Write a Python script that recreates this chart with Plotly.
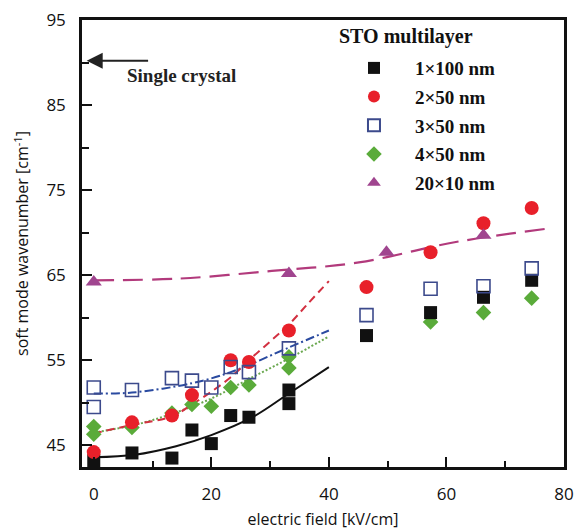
import plotly.graph_objects as go

# ---- measured soft-mode wavenumbers (cm^-1) versus electric field (kV/cm) ----
e_1x100 = [0, 6.5, 13.3, 16.7, 20, 23.3, 26.4, 33.2, 33.2, 46.4, 57.3, 66.3, 74.5]
w_1x100 = [43.2, 44.1, 43.5, 46.8, 45.2, 48.5, 48.3, 51.5, 49.9, 57.9, 60.6, 62.4, 64.4]

e_2x50 = [0, 6.5, 13.3, 16.7, 23.3, 26.4, 33.2, 46.4, 57.3, 66.3, 74.5]
w_2x50 = [44.2, 47.7, 48.5, 50.9, 55.0, 54.8, 58.5, 63.6, 67.7, 71.1, 72.9]

e_3x50 = [0, 0, 6.5, 13.3, 16.7, 20, 23.3, 26.4, 33.2, 46.4, 57.3, 66.3, 74.5]
w_3x50 = [51.8, 49.5, 51.5, 52.9, 52.6, 51.8, 54.2, 53.6, 56.4, 60.3, 63.4, 63.7, 65.8]

e_4x50 = [0, 0, 6.5, 13.3, 16.7, 20, 23.3, 26.4, 33.2, 33.2, 57.3, 66.3, 74.5]
w_4x50 = [47.2, 46.3, 47.1, 48.8, 49.8, 49.6, 51.8, 52.1, 55.4, 54.1, 59.5, 60.6, 62.3]

e_20x10 = [0, 33.2, 49.8, 66.3]
w_20x10 = [64.2, 65.2, 67.7, 69.7]

# ---- guide curves through the low-field data ----
fit_e_1x100 = [0, 7, 14, 20, 27, 33, 40]
fit_w_1x100 = [43.6, 43.9, 44.9, 46.2, 48.3, 51.0, 54.2]

fit_e_2x50 = [0, 6.5, 13.3, 16.7, 20, 23.3, 26.4, 30, 33.2, 36.5, 40]
fit_w_2x50 = [46.4, 47.4, 48.4, 49.8, 51.3, 53.0, 55.0, 57.2, 59.2, 61.7, 64.3]

fit_e_3x50 = [0, 6.5, 16.7, 23.3, 33.2, 40]
fit_w_3x50 = [51.1, 51.2, 52.3, 53.6, 56.5, 58.5]

fit_e_4x50 = [0, 7, 13.3, 20, 26.4, 33.2, 40]
fit_w_4x50 = [46.5, 47.4, 48.7, 50.5, 52.8, 55.2, 57.8]

fit_e_20x10 = [0, 14.5, 30.3, 45.1, 61.6, 77.5]
fit_w_20x10 = [64.4, 64.6, 65.5, 66.5, 68.9, 70.5]

single_crystal = 90.2  # bulk STO soft-mode frequency

legend_title = "STO multilayer"
labels = ["1×100 nm", "2×50 nm", "3×50 nm", "4×50 nm", "20×10 nm"]

BLACK = "#111111"
RED = "#e8202a"
NAVY = "#3c4a8c"
GREEN = "#5aab3a"
PURPLE = "#a0458f"

fig = go.Figure()

# guide curves (not in legend)
fig.add_trace(go.Scatter(x=fit_e_20x10, y=fit_w_20x10, mode="lines", showlegend=False,
                         line=dict(color="#b23a7c", width=2.2, dash="20px,9px", shape="spline")))
fig.add_trace(go.Scatter(x=fit_e_4x50, y=fit_w_4x50, mode="lines", showlegend=False,
                         line=dict(color="#6aa84f", width=2, dash="2px,2px", shape="spline")))
fig.add_trace(go.Scatter(x=fit_e_3x50, y=fit_w_3x50, mode="lines", showlegend=False,
                         line=dict(color="#2a4aa0", width=2, dash="9px,3px,2px,3px", shape="spline")))
fig.add_trace(go.Scatter(x=fit_e_2x50, y=fit_w_2x50, mode="lines", showlegend=False,
                         line=dict(color="#d23040", width=2, dash="8px,5px", shape="spline")))
fig.add_trace(go.Scatter(x=fit_e_1x100, y=fit_w_1x100, mode="lines", showlegend=False,
                         line=dict(color=BLACK, width=2, shape="spline")))

# measured points
fig.add_trace(go.Scatter(x=e_4x50, y=w_4x50, mode="markers", name=labels[3], legendrank=4,
                         legendgroup="g4",
                         marker=dict(symbol="diamond", size=12, color=GREEN)))
fig.add_trace(go.Scatter(x=e_1x100, y=w_1x100, mode="markers", name=labels[0], legendrank=1,
                         legendgroup="g1",
                         marker=dict(symbol="square", size=13, color=BLACK)))
fig.add_trace(go.Scatter(x=e_2x50, y=w_2x50, mode="markers", name=labels[1], legendrank=2,
                         legendgroup="g2",
                         marker=dict(symbol="circle", size=14, color=RED)))
fig.add_trace(go.Scatter(x=e_3x50, y=w_3x50, mode="markers", name=labels[2], legendrank=3,
                         legendgroup="g3",
                         marker=dict(symbol="square-open", size=13, color=NAVY,
                                     line=dict(width=1.6, color=NAVY))))
fig.add_trace(go.Scatter(x=e_20x10, y=w_20x10, mode="markers", name=labels[4], legendrank=5,
                         legendgroup="g5",
                         marker=dict(symbol="triangle-up", size=14, color=PURPLE)))

serif = "Liberation Serif"
sans = "Open Sans"

# arrow marking the single-crystal value
fig.add_annotation(x=-1.2, y=single_crystal, ax=9.5, ay=single_crystal,
                   xref="x", yref="y", axref="x", ayref="y",
                   text="", showarrow=True, arrowhead=2, arrowsize=1.6,
                   arrowwidth=2, arrowcolor="#222222")
fig.add_annotation(x=14.9, y=single_crystal - 1.7, xref="x", yref="y",
                   text="Single crystal", showarrow=False,
                   font=dict(family=serif, size=19, color="#222222", weight="bold"))

# heading above the legend entries
fig.add_annotation(x=0.529, y=0.962, xref="paper", yref="paper",
                   xanchor="left", yanchor="middle", showarrow=False,
                   text=legend_title,
                   font=dict(family=serif, size=20, color="#111111", weight="bold"))

fig.update_layout(
    width=574, height=531,
    margin=dict(l=82, r=10, t=20, b=64),
    paper_bgcolor="white", plot_bgcolor="white",
    font=dict(family=sans, color="#111111"),
    legend=dict(
        x=0.5207, y=0.935, xanchor="left", yanchor="top",
        bgcolor="rgba(0,0,0,0)", borderwidth=0,
        font=dict(family=serif, size=19, weight="bold", color="#111111"),
        tracegroupgap=1, itemsizing="constant", itemwidth=72,
    ),
    xaxis=dict(
        range=[-2, 80], tickmode="array", tickvals=[0, 20, 40, 60, 80],
        ticks="inside", ticklen=10, tickwidth=2, tickcolor="#111111",
        minor=dict(dtick=10, tick0=0, ticks="inside", ticklen=6, tickwidth=2, tickcolor="#111111"),
        showline=True, linewidth=2.5, linecolor="#111111", mirror=True,
        showgrid=False, zeroline=False, automargin=False,
        tickfont=dict(family=sans, size=17), ticklabelstandoff=10,
        title=dict(text="electric field [kV/cm]", font=dict(family=sans, size=16), standoff=10),
    ),
    yaxis=dict(
        range=[42.45, 95], tickmode="array", tickvals=[45, 55, 65, 75, 85, 95],
        ticks="inside", ticklen=10, tickwidth=2, tickcolor="#111111",
        minor=dict(dtick=5, tick0=45, ticks="inside", ticklen=7, tickwidth=2, tickcolor="#111111"),
        showline=True, linewidth=2.5, linecolor="#111111", mirror=True,
        showgrid=False, zeroline=False, automargin=False,
        tickfont=dict(family=sans, size=17), ticklabelstandoff=10,
        title=dict(text="soft mode wavenumber [cm<sup>-1</sup>]",
                   font=dict(family=sans, size=16), standoff=14),
    ),
)

fig.write_html("out.html")
